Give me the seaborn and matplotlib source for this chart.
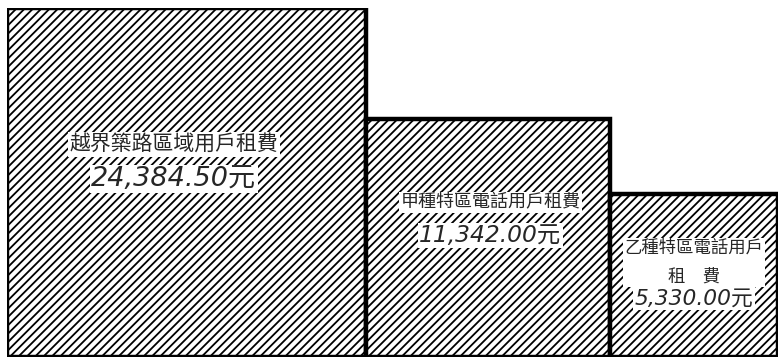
import numpy as np
import matplotlib
matplotlib.use("Agg")
import matplotlib.pyplot as plt
import seaborn as sns

# rental fees, drawn as squares whose area matches the value
labels = ["越界築路區域用戶租費", "甲種特區電話用戶租費", "乙種特區電話用戶\n租　費"]
values = [24384.50, 11342.00, 5330.00]
value_texts = ["24,384.50元", "11,342.00元", "5,330.00元"]

sns.set_style("white")
plt.rcParams["font.family"] = ["Noto Sans CJK TC", "DejaVu Sans"]
plt.rcParams["hatch.linewidth"] = 1.3
plt.rcParams["hatch.color"] = "black"

sides = np.sqrt(values)
lefts = np.concatenate([[0], np.cumsum(sides)[:-1]])

fig = plt.figure(figsize=(7.81, 3.62), dpi=100)
ax = fig.add_axes([0.009, 0.014, 0.987, 0.964])
ax.bar(lefts, sides, width=sides, align="edge", color="white",
       edgecolor="black", linewidth=3.2, hatch="////")
ax.set_xlim(0, sides.sum())
ax.set_ylim(0, sides.max())
ax.axis("off")

# label placement (fractions of each square's side) and font sizes
x_shift = [-0.035, 0.01, 0.0]
label_y = [0.61, 0.65, 0.58]
num_y = [0.51, 0.51, 0.36]
label_sizes = [15, 13, 12.5]
num_sizes = [19.5, 16.8, 15.7]
spacing = [1.2, 1.2, 1.75]
box = dict(facecolor="white", edgecolor="none", pad=1.0)
for i in range(len(values)):
    cx = lefts[i] + sides[i] * (0.5 + x_shift[i])
    ax.text(cx, sides[i] * label_y[i], labels[i], ha="center", va="center",
            fontsize=label_sizes[i], fontweight="medium",
            linespacing=spacing[i], bbox=box)
    ax.text(cx, sides[i] * num_y[i], value_texts[i], ha="center", va="center",
            fontsize=num_sizes[i], style="italic",
            family=["DejaVu Sans", "Noto Sans CJK TC"], bbox=box)

fig.savefig("out.png", dpi=100)
